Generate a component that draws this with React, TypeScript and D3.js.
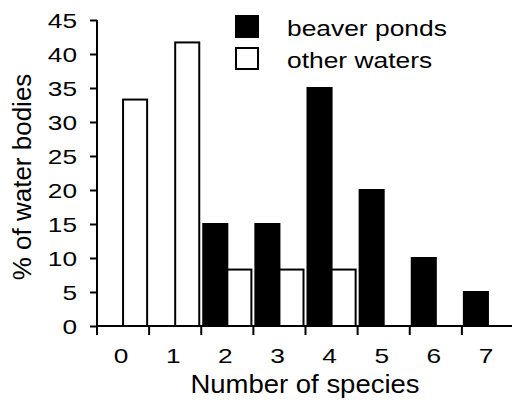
import { useEffect, useRef } from 'react';
import * as d3 from 'd3';

const species = ['0', '1', '2', '3', '4', '5', '6', '7'];
const beaverPonds = [0, 0, 15, 15, 35, 20, 10, 5];
const otherWaters = [33.3, 41.7, 8.3, 8.3, 8.3, 0, 0, 0];
const seriesNames = ['beaver ponds', 'other waters'];
const yTicks = [0, 5, 10, 15, 20, 25, 30, 35, 40, 45];

const W = 512;
const H = 400;
const FONT = 'Liberation Sans, Arial, sans-serif';

export default function App() {
  const ref = useRef<SVGSVGElement>(null);

  useEffect(() => {
    const svg = d3.select(ref.current);
    svg.selectAll('*').remove();

    const x = d3.scaleBand<string>().domain(species).range([97, 514]).paddingInner(0);
    const xs = d3
      .scaleBand<string>()
      .domain(seriesNames)
      .range([0, x.bandwidth()])
      .paddingOuter(0.083);
    const y = d3.scaleLinear().domain([0, 45]).range([326, 20]);

    const rows = species.map((s, i) => ({ s, vals: [beaverPonds[i], otherWaters[i]] }));

    // bars
    const g = svg.append('g');
    rows.forEach((r) => {
      r.vals.forEach((v, k) => {
        if (!v) return;
        g.append('rect')
          .attr('x', x(r.s)! + xs(seriesNames[k])!)
          .attr('y', y(v))
          .attr('width', xs.bandwidth())
          .attr('height', y(0) - y(v))
          .attr('fill', k === 0 ? '#000' : '#fff')
          .attr('stroke', '#000')
          .attr('stroke-width', 2);
      });
    });

    // y axis
    const ya = svg
      .append('g')
      .attr('transform', 'translate(97,0)')
      .call(d3.axisLeft(y).tickValues(yTicks).tickSize(7).tickPadding(13));
    ya.select('.domain').attr('stroke-width', 2).attr('d', `M0,${y(45)}V${y(0)}`);
    ya.selectAll('.tick line').attr('stroke-width', 2);
    ya.selectAll('.tick text')
      .attr('font-family', FONT)
      .attr('font-size', 21)
      .attr('fill', '#000')
      .attr('dy', '0.36em')
      .each(function () {
        const t = d3.select(this);
        const xx = +t.attr('x');
        t.attr('x', null).attr('transform', `translate(${xx},0) scale(1.25,1)`);
      });

    // x axis
    const xa = svg.append('g').attr('transform', `translate(0,${y(0)})`);
    xa.append('line')
      .attr('x1', 97)
      .attr('x2', 512)
      .attr('stroke', '#000')
      .attr('stroke-width', 2);
    species.forEach((s) => {
      xa.append('line')
        .attr('x1', x(s)!)
        .attr('x2', x(s)!)
        .attr('y1', 0)
        .attr('y2', 9)
        .attr('stroke', '#000')
        .attr('stroke-width', 2);
      xa.append('text')
        .attr('transform', `translate(${x(s)! + x.bandwidth() / 2 - 2},37) scale(1.25,1)`)
        .attr('text-anchor', 'middle')
        .attr('font-family', FONT)
        .attr('font-size', 21)
        .text(s);
    });

    // axis titles
    svg
      .append('text')
      .attr('transform', `translate(305,393) scale(1.1,1)`)
      .attr('text-anchor', 'middle')
      .attr('font-family', FONT)
      .attr('font-size', 25)
      .text('Number of species');
    svg
      .append('text')
      .attr('transform', `translate(31,177) rotate(-90)`)
      .attr('text-anchor', 'middle')
      .attr('font-family', FONT)
      .attr('font-size', 26)
      .text('% of water bodies');

    // legend
    const lg = svg.append('g');
    seriesNames.forEach((n, k) => {
      lg.append('rect')
        .attr('x', 236)
        .attr('y', 16 + k * 32)
        .attr('width', 22)
        .attr('height', 21)
        .attr('fill', k === 0 ? '#000' : '#fff')
        .attr('stroke', '#000')
        .attr('stroke-width', 2);
      lg.append('text')
        .attr('transform', `translate(287,${36 + k * 32}) scale(1.2,1)`)
        .attr('font-family', FONT)
        .attr('font-size', 22)
        .text(n);
    });
  }, []);

  return (
    <svg
      ref={ref}
      width={W}
      height={H}
      style={{ position: 'absolute', left: 0, top: 0, background: '#fff' }}
    />
  );
}
